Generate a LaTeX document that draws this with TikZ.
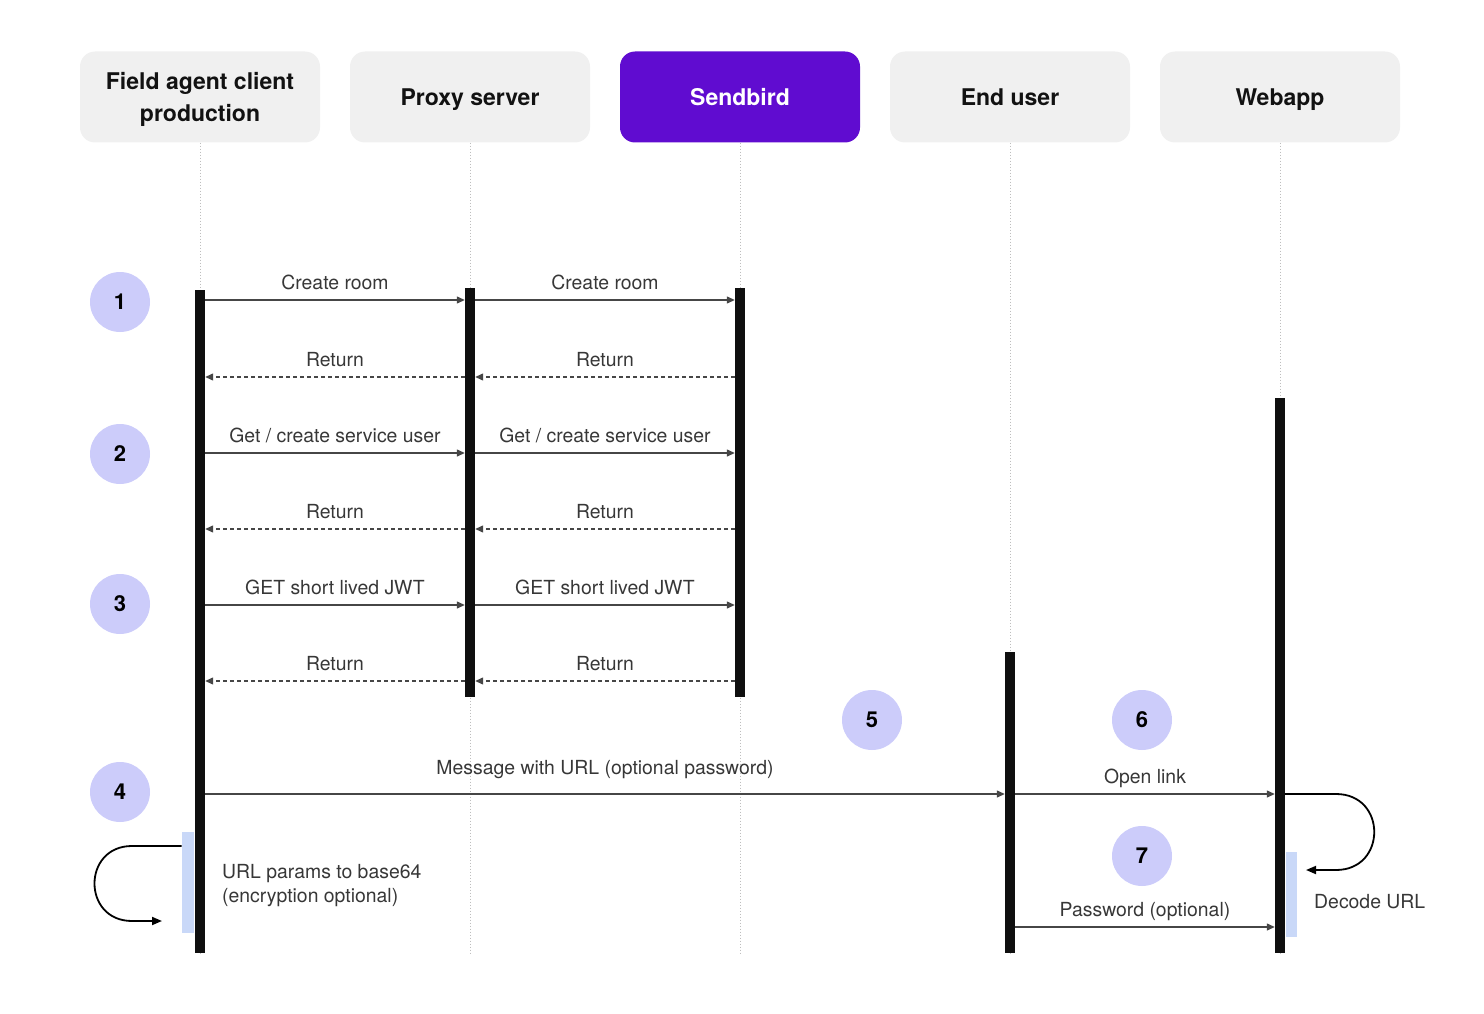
\documentclass[tikz,border=0pt]{standalone}
\usepackage{fontspec}
\setmainfont{TeX Gyre Heros}
\usetikzlibrary{arrows.meta,positioning}
\definecolor{boxgray}{RGB}{240,240,240}
\definecolor{sbpurple}{RGB}{96,12,208}
\definecolor{stepblue}{RGB}{204,204,250}
\definecolor{actblue}{RGB}{201,216,248}
\definecolor{msggray}{RGB}{70,70,70}
\definecolor{txtgray}{RGB}{55,55,55}
\definecolor{lifegray}{RGB}{190,190,190}

\begin{document}
\begin{tikzpicture}[x=1pt, y=-1pt, >={Triangle[length=8pt, width=7pt]},
    actor/.style={rectangle, rounded corners=15pt, fill=boxgray, minimum width=240pt, minimum height=91pt, align=center, text height=20pt, text depth=2pt, font=\fontsize{23}{32}\selectfont\bfseries, text=black!93},
    bar/.style={rectangle, fill=black!94, minimum width=10pt, inner sep=0pt, anchor=north},
    actbox/.style={rectangle, fill=actblue, inner sep=0pt},
    lifeline/.style={lifegray, dotted, line width=1pt},
    msg/.style={->, msggray, line width=1.3pt},
    ret/.style={->, msggray, line width=1.3pt, dash pattern=on 4pt off 3pt},
    loop/.style={-{Triangle[length=10pt, width=8pt]}, black, line width=1.8pt},
    lbl/.style={above=6pt, inner sep=0pt, text height=13pt, text depth=4pt, text=txtgray, font=\fontsize{19.4}{24}\selectfont},
    note/.style={inner sep=0pt, align=left, anchor=west, text=txtgray, font=\fontsize{19.4}{24}\selectfont},
    stepnum/.style={circle, fill=stepblue, minimum size=60pt, inner sep=0pt, font=\fontsize{22}{24}\selectfont\bfseries}]

  \useasboundingbox (0,0) rectangle (1484,1014);

  % participants
  \node[actor, text height=52pt] (fac) at (200,97) {Field agent client\\production};
  \node[actor] (prx) at (470,97) {Proxy server};
  \node[actor, fill=sbpurple, text=white] (sbd) at (740,97) {Sendbird};
  \node[actor] (eus) at (1010,97) {End user};
  \node[actor] (wap) at (1280,97) {Webapp};

  % lifelines
  \coordinate (facend) at (200,953);
  \coordinate (prxend) at (470,953);
  \coordinate (sbdend) at (740,953);
  \coordinate (eusend) at (1010,953);
  \coordinate (wapend) at (1280,953);
  \draw[lifeline] (fac) -- (facend);
  \draw[lifeline] (prx) -- (prxend);
  \draw[lifeline] (sbd) -- (sbdend);
  \draw[lifeline] (eus) -- (eusend);
  \draw[lifeline] (wap) -- (wapend);

  % activations
  \node[actbox, minimum width=12pt, minimum height=101pt, anchor=north east] (facact) at (194,832) {};
  \node[actbox, minimum width=11pt, minimum height=85pt, anchor=north west] (wapact) at (1286,852) {};
  \node[bar, minimum height=663pt] (facbar) at (200,290) {};
  \node[bar, minimum height=409pt] (prxbar) at (470,288) {};
  \node[bar, minimum height=409pt] (sbdbar) at (740,288) {};
  \node[bar, minimum height=301pt] (eusbar) at (1010,652) {};
  \node[bar, minimum height=555pt] (wapbar) at (1280,398) {};

  % steps
  \node[stepnum] (s1) at (120,302) {1};
  \node[stepnum] (s2) at (120,454) {2};
  \node[stepnum] (s3) at (120,604) {3};
  \node[stepnum] (s4) at (120,792) {4};
  \node[stepnum] (s5) at (872,720) {5};
  \node[stepnum] (s6) at (1142,720) {6};
  \node[stepnum] (s7) at (1142,856) {7};

  % message rows
  \coordinate (r1) at (0,300);
  \coordinate (r2) at (0,377);
  \coordinate (r3) at (0,453);
  \coordinate (r4) at (0,529);
  \coordinate (r5) at (0,605);
  \coordinate (r6) at (0,681);
  \coordinate (r7) at (0,794);
  \coordinate (r8) at (0,927);
  \coordinate (r9) at (0,846);

  \draw[msg] (facbar.east |- r1) -- node[midway, lbl] {Create room} (prxbar.west |- r1);
  \draw[msg] (prxbar.east |- r1) -- node[midway, lbl] {Create room} (sbdbar.west |- r1);
  \draw[ret] (prxbar.west |- r2) -- node[midway, lbl] {Return} (facbar.east |- r2);
  \draw[ret] (sbdbar.west |- r2) -- node[midway, lbl] {Return} (prxbar.east |- r2);

  \draw[msg] (facbar.east |- r3) -- node[midway, lbl] {Get / create service user} (prxbar.west |- r3);
  \draw[msg] (prxbar.east |- r3) -- node[midway, lbl] {Get / create service user} (sbdbar.west |- r3);
  \draw[ret] (prxbar.west |- r4) -- node[midway, lbl] {Return} (facbar.east |- r4);
  \draw[ret] (sbdbar.west |- r4) -- node[midway, lbl] {Return} (prxbar.east |- r4);

  \draw[msg] (facbar.east |- r5) -- node[midway, lbl] {GET short lived JWT} (prxbar.west |- r5);
  \draw[msg] (prxbar.east |- r5) -- node[midway, lbl] {GET short lived JWT} (sbdbar.west |- r5);
  \draw[ret] (prxbar.west |- r6) -- node[midway, lbl] {Return} (facbar.east |- r6);
  \draw[ret] (sbdbar.west |- r6) -- node[midway, lbl] {Return} (prxbar.east |- r6);

  \draw[msg] (facbar.east |- r7) -- node[midway, lbl, above=15pt] {Message with URL (optional password)} (eusbar.west |- r7);
  \draw[msg] (eusbar.east |- r7) -- node[midway, lbl] {Open link} (wapbar.west |- r7);
  \draw[msg] (eusbar.east |- r8) -- node[midway, lbl] {Password (optional)} (wapbar.west |- r8);

  % self calls
  \coordinate (facloop) at (162,921);
  \coordinate (waploop) at (1306,870);
  \draw[loop] (facact.west |- r9) -- (132,846) .. controls (82,846) and (82,921) .. (132,921) -- (facloop);
  \draw[loop] (wapbar.east |- r7) -- (1336,794) .. controls (1387,794) and (1387,870) .. (1336,870) -- (waploop);

  \node[note] (urlnote) at (222,886) {URL params to base64\\(encryption optional)};
  \node[note] (decnote) at (1314,902) {Decode URL};

\end{tikzpicture}
\end{document}
